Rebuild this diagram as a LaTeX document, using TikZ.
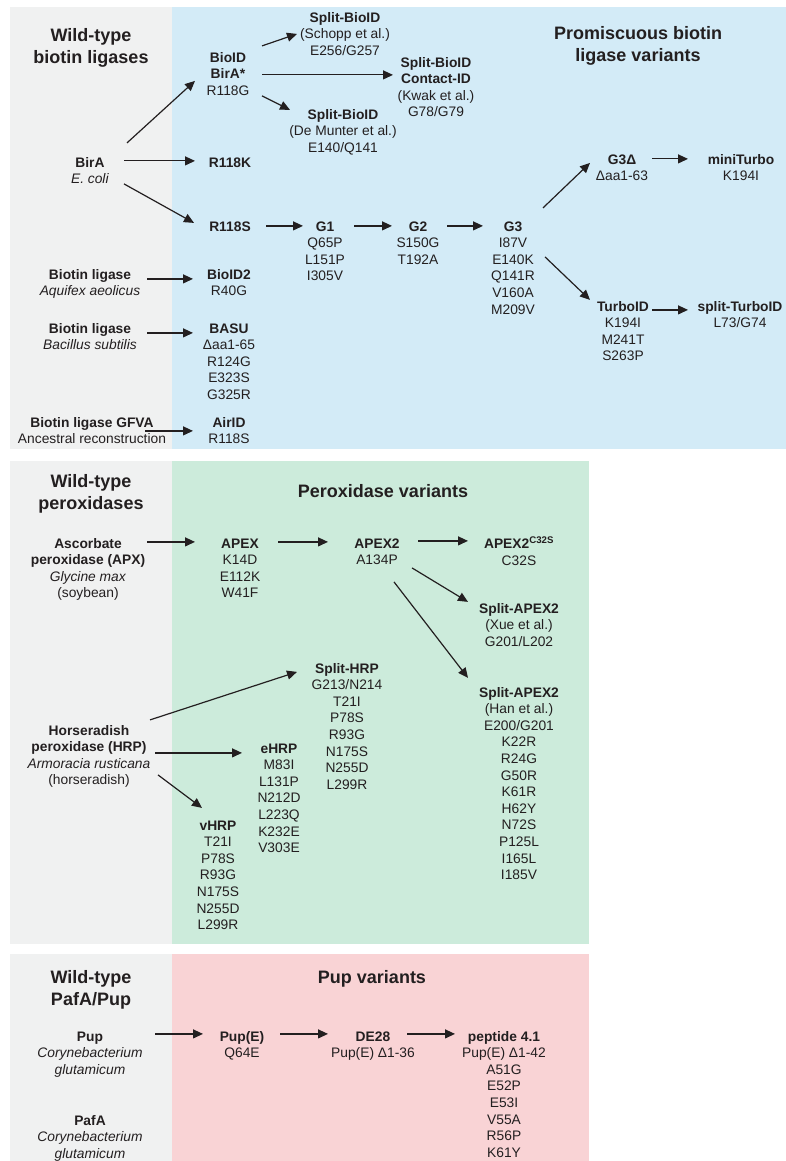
\documentclass[tikz,border=0pt]{standalone}
\usepackage{fontspec}
\setmainfont{Liberation Sans}
\usetikzlibrary{arrows.meta}
\definecolor{wtgray}{HTML}{F0F1F1}
\definecolor{pblue}{HTML}{D3EBF7}
\definecolor{pgreen}{HTML}{CCEBDB}
\definecolor{ppink}{HTML}{F9D3D5}
\definecolor{ink}{HTML}{231F20}
\begin{document}
\begin{tikzpicture}[x=1pt,y=-1pt,
  blk/.style={anchor=north, yshift=6.7pt, align=center, inner sep=0pt, text=ink,
    font=\fontsize{13.8}{16.6}\selectfont},
  head/.style={anchor=north, yshift=8.95pt, align=center, inner sep=0pt, text=ink,
    font=\fontsize{18}{22}\selectfont\bfseries},
  arr/.style={draw=ink, line width=1.2pt, -{Triangle[length=10pt,width=9pt]}},
]
\useasboundingbox (0,0) rectangle (786,1161);
% panels
\fill[wtgray] (10,7) rectangle (172,449);
\fill[pblue] (172,7) rectangle (786,449);
\fill[wtgray] (10,461) rectangle (172,944);
\fill[pgreen] (172,461) rectangle (589,944);
\fill[wtgray] (10,954) rectangle (172,1161);
\fill[ppink] (172,954) rectangle (589,1161);

% ---------------- panel 1
\node[head] (h1l) at (91,35) {\strut Wild-type\\biotin ligases};
\node[head] (h1r) at (638,33) {\strut Promiscuous biotin\\ligase variants};
\node[blk] (birA) at (90,162) {\strut\textbf{BirA}\\\textit{E. coli}};
\node[blk] (bioid) at (228,57) {\strut\textbf{BioID}\\\textbf{BirA*}\\R118G};
\node[blk] (schopp) at (345,17) {\strut\textbf{Split-BioID}\\(Schopp et al.)\\E256/G257};
\node[blk] (kwak) at (436,62) {\strut\textbf{Split-BioID}\\\textbf{Contact-ID}\\(Kwak et al.)\\G78/G79};
\node[blk] (munter) at (343,114) {\strut\textbf{Split-BioID}\\(De Munter et al.)\\E140/Q141};
\node[blk] (r118k) at (230,162) {\strut\textbf{R118K}};
\node[blk] (r118s) at (230,226) {\strut\textbf{R118S}};
\node[blk] (g1) at (325,226) {\strut\textbf{G1}\\Q65P\\L151P\\I305V};
\node[blk] (g2) at (418,226) {\strut\textbf{G2}\\S150G\\T192A};
\node[blk] (g3) at (513,226) {\strut\textbf{G3}\\I87V\\E140K\\Q141R\\V160A\\M209V};
\node[blk] (g3d) at (622,159) {\strut\textbf{G3Δ}\\Δaa1-63};
\node[blk] (mini) at (741,159) {\strut\textbf{miniTurbo}\\K194I};
\node[blk] (turbo) at (623,306) {\strut\textbf{TurboID}\\K194I\\M241T\\S263P};
\node[blk] (sturbo) at (740,306) {\strut\textbf{split-TurboID}\\L73/G74};
\node[blk] (aqui) at (90,274) {\strut\textbf{Biotin ligase}\\\textit{Aquifex aeolicus}};
\node[blk] (bioid2) at (229,274) {\strut\textbf{BioID2}\\R40G};
\node[blk] (bacil) at (90,328) {\strut\textbf{Biotin ligase}\\\textit{Bacillus subtilis}};
\node[blk] (basu) at (229,328) {\strut\textbf{BASU}\\Δaa1-65\\R124G\\E323S\\G325R};
\node[blk] (gfva) at (92,422) {\strut\textbf{Biotin ligase GFVA}\\Ancestral reconstruction};
\node[blk] (airid) at (229,422) {\strut\textbf{AirID}\\R118S};

\draw[arr] ([shift={(37,-12.4)}]birA.north) -- ([shift={(-33,30.6)}]bioid.north);
\draw[arr] ([shift={(34,5.6)}]birA.north) -- ([shift={(-35,5.6)}]r118k.north);
\draw[arr] ([shift={(34,28.6)}]birA.north) -- ([shift={(-36,3.6)}]r118s.north);
\draw[arr] ([shift={(34,-4.4)}]bioid.north) -- ([shift={(-48,23.6)}]schopp.north);
\draw[arr] ([shift={(34,24.6)}]bioid.north) -- ([shift={(-43,19.6)}]kwak.north);
\draw[arr] ([shift={(34,45.6)}]bioid.north) -- ([shift={(-53,2.6)}]munter.north);
\draw[arr] ([shift={(36,6.6)}]r118s.north) -- ([shift={(-22,6.6)}]g1.north);
\draw[arr] ([shift={(29,6.6)}]g1.north) -- ([shift={(-26,6.6)}]g2.north);
\draw[arr] ([shift={(29,6.6)}]g2.north) -- ([shift={(-30,6.6)}]g3.north);
\draw[arr] ([shift={(30,-11.4)}]g3.north) -- ([shift={(-32,10.6)}]g3d.north);
\draw[arr] ([shift={(30,6.6)}]g3d.north) -- ([shift={(-53,6.6)}]mini.north);
\draw[arr] ([shift={(32,37.6)}]g3.north) -- ([shift={(-33,0.6)}]turbo.north);
\draw[arr] ([shift={(29,10.6)}]turbo.north) -- ([shift={(-52,10.6)}]sturbo.north);
\draw[arr] ([shift={(57,11.6)}]aqui.north) -- ([shift={(-36,11.6)}]bioid2.north);
\draw[arr] ([shift={(57,11.6)}]bacil.north) -- ([shift={(-36,11.6)}]basu.north);
\draw[arr] ([shift={(53,15.6)}]gfva.north) -- ([shift={(-36,15.6)}]airid.north);

% ---------------- panel 2
\node[head] (h2l) at (91,481) {\strut Wild-type\\peroxidases};
\node[head] (h2r) at (383,491) {\strut Peroxidase variants};
\node[blk] (apx) at (88,543) {\strut\textbf{Ascorbate}\\\textbf{peroxidase (APX)}\\\textit{Glycine max}\\(soybean)};
\node[blk] (apex) at (240,543) {\strut\textbf{APEX}\\K14D\\E112K\\W41F};
\node[blk] (apex2) at (377,543) {\strut\textbf{APEX2}\\A134P};
\node[blk] (apexc) at (519,543) {\strut\textbf{APEX2\textsuperscript{C32S}}\\C32S};
\node[blk] (xue) at (519,608) {\strut\textbf{Split-APEX2}\\(Xue et al.)\\G201/L202};
\node[blk] (han) at (519,692) {\strut\textbf{Split-APEX2}\\(Han et al.)\\E200/G201\\K22R\\R24G\\G50R\\K61R\\H62Y\\N72S\\P125L\\I165L\\I185V};
\node[blk] (shrp) at (347,668) {\strut\textbf{Split-HRP}\\G213/N214\\T21I\\P78S\\R93G\\N175S\\N255D\\L299R};
\node[blk] (hrp) at (89,730) {\strut\textbf{Horseradish}\\\textbf{peroxidase (HRP)}\\\textit{Armoracia rusticana}\\(horseradish)};
\node[blk] (ehrp) at (279,748) {\strut\textbf{eHRP}\\M83I\\L131P\\N212D\\L223Q\\K232E\\V303E};
\node[blk] (vhrp) at (218,825) {\strut\textbf{vHRP}\\T21I\\P78S\\R93G\\N175S\\N255D\\L299R};

\draw[arr] ([shift={(59,5.6)}]apx.north) -- ([shift={(-45,5.6)}]apex.north);
\draw[arr] ([shift={(38,5.6)}]apex.north) -- ([shift={(-49,5.6)}]apex2.north);
\draw[arr] ([shift={(41,4.6)}]apex2.north) -- ([shift={(-51,4.6)}]apexc.north);
\draw[arr] ([shift={(35,31.6)}]apex2.north) -- ([shift={(-51,0.6)}]xue.north);
\draw[arr] ([shift={(17,45.6)}]apex2.north) -- ([shift={(-51,-7.4)}]han.north);
\draw[arr] ([shift={(61,-3.4)}]hrp.north) -- ([shift={(-50,10.6)}]shrp.north);
\draw[arr] ([shift={(66,29.6)}]hrp.north) -- ([shift={(-37,11.6)}]ehrp.north);
\draw[arr] ([shift={(69,51.6)}]hrp.north) -- ([shift={(-16,-10.4)}]vhrp.north);

% ---------------- panel 3
\node[head] (h3l) at (91,977) {\strut Wild-type\\PafA/Pup};
\node[head] (h3r) at (372,977) {\strut Pup variants};
\node[blk] (pup) at (90,1036) {\strut\textbf{Pup}\\\textit{Corynebacterium}\\\textit{glutamicum}};
\node[blk] (pafa) at (90,1120) {\strut\textbf{PafA}\\\textit{Corynebacterium}\\\textit{glutamicum}};
\node[blk] (pupe) at (242,1036) {\strut\textbf{Pup(E)}\\Q64E};
\node[blk] (de28) at (373,1036) {\strut\textbf{DE28}\\Pup(E) Δ1-36};
\node[blk] (pep) at (504,1036) {\strut\textbf{peptide 4.1}\\Pup(E) Δ1-42\\A51G\\E52P\\E53I\\V55A\\R56P\\K61Y};

\draw[arr] ([shift={(65,4.6)}]pup.north) -- ([shift={(-39,4.6)}]pupe.north);
\draw[arr] ([shift={(38,4.6)}]pupe.north) -- ([shift={(-45,4.6)}]de28.north);
\draw[arr] ([shift={(34,4.6)}]de28.north) -- ([shift={(-49,4.6)}]pep.north);
\end{tikzpicture}
\end{document}
